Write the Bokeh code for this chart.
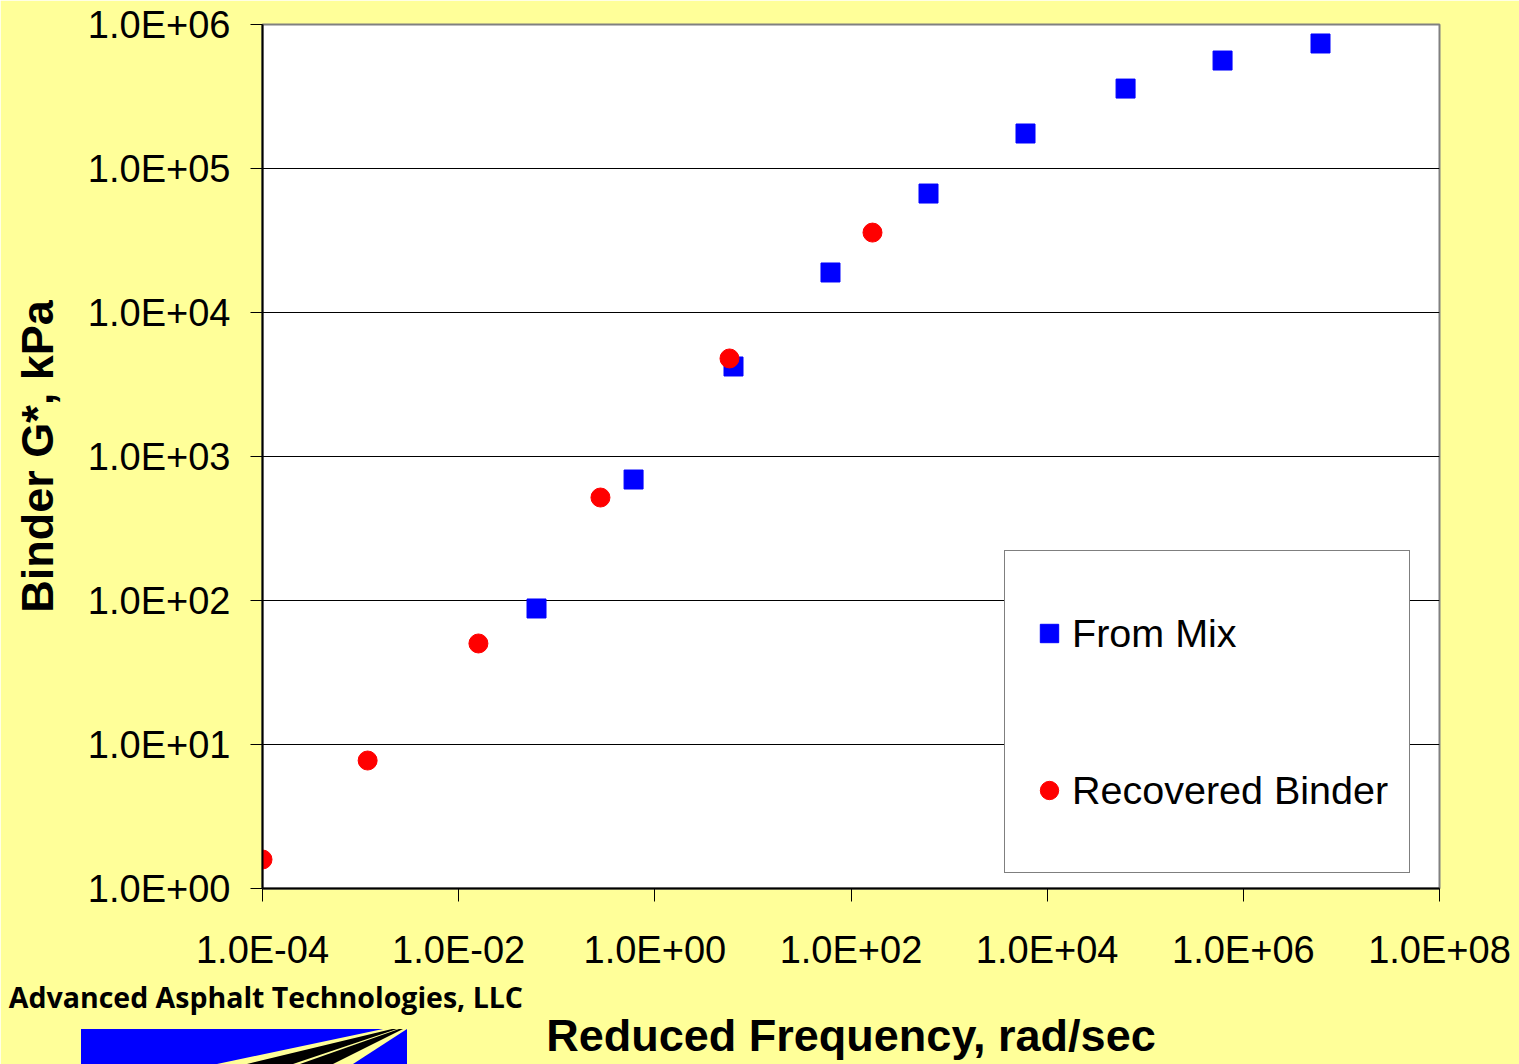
from bokeh.plotting import figure
from bokeh.layouts import column
from bokeh.models import FixedTicker, Legend, LegendItem, ColumnDataSource, Div
from bokeh.embed import file_html
from bokeh.resources import INLINE

# ---------------- data ----------------
mix_freq = [0.0622, 0.607, 6.34, 61.8, 617, 6015, 63000, 614000, 6.12e6]
mix_g = [88, 692, 4217, 18960, 67000, 175000, 359000, 562000, 738000]

rec_freq = [1.0e-4, 0.00118, 0.0159, 0.279, 5.77, 165.6]
rec_g = [1.59, 7.74, 50.3, 519, 4795, 35900]

x_ticks = [1e-4, 1e-2, 1e0, 1e2, 1e4, 1e6, 1e8]
x_tick_labels = ["1.0E-04", "1.0E-02", "1.0E+00", "1.0E+02", "1.0E+04", "1.0E+06", "1.0E+08"]
y_ticks = [1e0, 1e1, 1e2, 1e3, 1e4, 1e5, 1e6]
y_tick_labels = ["1.0E+00", "1.0E+01", "1.0E+02", "1.0E+03", "1.0E+04", "1.0E+05", "1.0E+06"]

series_names = ["From Mix", "Recovered Binder"]
x_title = "Reduced Frequency, rad/sec"
y_title = "Binder G*, kPa"
company = "Advanced Asphalt Technologies, LLC"

YELLOW = "#FFFF99"
FONT = "Liberation Sans"
W, H = 1519, 1064
FOOT_H = 86

# ---------------- main chart ----------------
p = figure(width=W, height=H, x_axis_type="log", y_axis_type="log",
           x_range=(1e-4, 1e8), y_range=(1e0, 1e6),
           output_backend="svg", toolbar_location=None,
           min_border_left=262, min_border_right=80,
           min_border_top=24, min_border_bottom=176)

p.background_fill_color = "white"
p.border_fill_color = YELLOW
p.outline_line_color = "#808080"
p.outline_line_width = 2

p.xaxis.ticker = FixedTicker(ticks=x_ticks, minor_ticks=[])
p.yaxis.ticker = FixedTicker(ticks=y_ticks, minor_ticks=[])
p.xaxis.major_label_overrides = {t: l for t, l in zip(x_ticks, x_tick_labels)}
p.yaxis.major_label_overrides = {t: l for t, l in zip(y_ticks, y_tick_labels)}

for ax in (p.xaxis[0], p.yaxis[0]):
    ax.axis_line_color = "black"
    ax.axis_line_width = 2
    ax.major_tick_line_color = "black"
    ax.major_tick_line_width = 1
    ax.major_tick_in = 0
    ax.minor_tick_line_color = None
    ax.major_label_text_font = FONT
    ax.major_label_text_font_size = "38px"
    ax.major_label_text_color = "black"
    ax.axis_label_text_font = FONT
    ax.axis_label_text_font_size = "45px"
    ax.axis_label_text_font_style = "bold"
    ax.axis_label_text_color = "black"

p.xaxis.major_tick_out = 13
p.yaxis.major_tick_out = 12
p.xaxis.major_label_standoff = 27
p.yaxis.major_label_standoff = 20
p.xaxis.axis_label = x_title
p.yaxis.axis_label = y_title
p.xaxis.axis_label_standoff = 36
p.yaxis.axis_label_standoff = 22

p.xgrid.grid_line_color = None
p.ygrid.grid_line_color = "black"
p.ygrid.grid_line_width = 1

src_mix = ColumnDataSource(dict(x=mix_freq, y=mix_g))
src_rec = ColumnDataSource(dict(x=rec_freq, y=rec_g))
r_mix = p.scatter("x", "y", source=src_mix, marker="square", size=19,
                  fill_color="#0000FF", line_color="#0000FF")
r_rec = p.scatter("x", "y", source=src_rec, marker="circle", size=19,
                  fill_color="#FF0000", line_color="#FF0000")

legend = Legend(items=[LegendItem(label=series_names[0], renderers=[r_mix]),
                       LegendItem(label=series_names[1], renderers=[r_rec])],
                location=(742, 15))
legend.background_fill_color = "white"
legend.background_fill_alpha = 1.0
legend.border_line_color = "black"
legend.border_line_width = 1
legend.label_text_font = FONT
legend.label_text_font_size = "39.5px"
legend.label_text_color = "black"
legend.padding = 21
legend.margin = 0
legend.spacing = 35
legend.glyph_width = 46
legend.glyph_height = 122
legend.label_height = 122
legend.label_standoff = 0
p.add_layout(legend, "center")

# ---------------- footer overlay: company credit and logo ----------------
footer_html = (
    f'<div style="position:relative;width:{W}px;height:{FOOT_H}px;">'
    f'<svg width="{W}" height="{FOOT_H}" style="position:absolute;left:0;top:0;">'
    '<rect x="81" y="51" width="326" height="40" fill="#0000FF"/>'
    f'<polygon points="407,51 383,51 217,{FOOT_H} 353,{FOOT_H}" fill="{YELLOW}"/>'
    f'<polygon points="403,51 392,51 247,{FOOT_H} 333,{FOOT_H}" fill="black"/>'
    f'<polygon points="399,51 397,51 293,{FOOT_H} 300,{FOOT_H}" fill="{YELLOW}"/>'
    '</svg>'
    '<div style="position:absolute;right:996px;top:4px;white-space:nowrap;'
    "font-family:'Open Sans';font-weight:bold;font-size:28.5px;line-height:30px;"
    f'color:black;">{company}</div>'
    '</div>'
)
footer = Div(text=footer_html, width=W, height=FOOT_H,
             margin=(-FOOT_H, 0, 0, 0), styles={"z-index": "10"})

layout = column(p, footer, spacing=0)

html = file_html(layout, INLINE)
html = html.replace("<body>", '<body style="background-color:#FFFF99;">', 1)
open("out.html", "w").write(html)
